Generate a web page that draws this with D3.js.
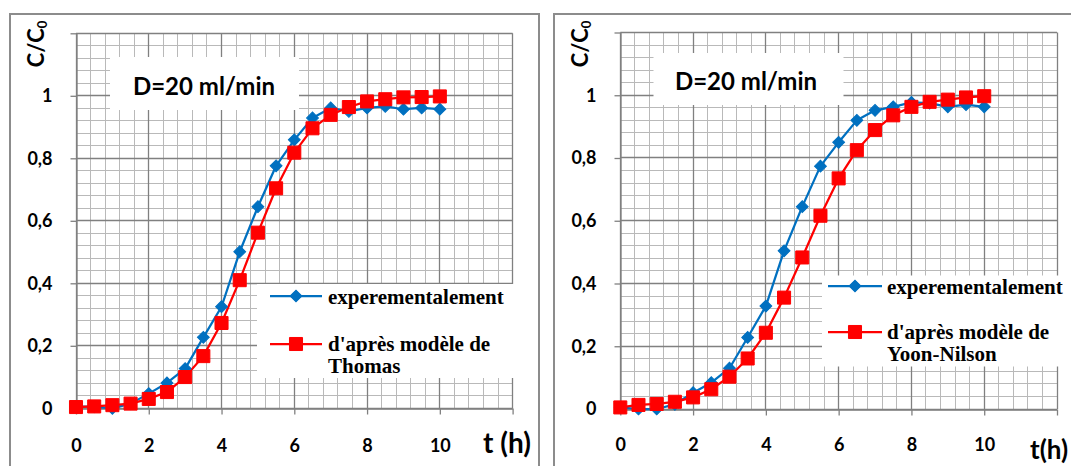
<!DOCTYPE html>
<html>
<head>
<meta charset="utf-8">
<script src="https://cdn.jsdelivr.net/npm/d3@7"></script>
<style>
  html, body { margin: 0; padding: 0; background: #fff; }
  svg { display: block; }
</style>
</head>
<body>
<svg id="chart" width="1071" height="466"></svg>
<script>
// ---------------- DATA ----------------
const times = [0, 0.5, 1, 1.5, 2, 2.5, 3, 3.5, 4, 4.5, 5, 5.5, 6, 6.5, 7, 7.5, 8, 8.5, 9, 9.5, 10];
const expThomasPanel = [0.005, 0.005, 0.0, 0.015, 0.047, 0.081, 0.127, 0.227, 0.325, 0.501, 0.645, 0.776, 0.859, 0.929, 0.961, 0.950, 0.961, 0.966, 0.957, 0.961, 0.957];
const thomasModel    = [0.004, 0.006, 0.010, 0.015, 0.030, 0.052, 0.100, 0.167, 0.273, 0.410, 0.562, 0.704, 0.818, 0.896, 0.939, 0.964, 0.982, 0.989, 0.995, 0.996, 0.998];
const expYoonPanel   = [0.005, 0.0, 0.0, 0.015, 0.052, 0.084, 0.130, 0.228, 0.328, 0.504, 0.645, 0.774, 0.850, 0.920, 0.952, 0.963, 0.977, 0.975, 0.963, 0.970, 0.963];
const yoonNilsonModel= [0.005, 0.013, 0.016, 0.023, 0.037, 0.063, 0.103, 0.161, 0.243, 0.355, 0.483, 0.616, 0.735, 0.825, 0.889, 0.936, 0.963, 0.979, 0.986, 0.993, 0.997];

const xTickValues = [0, 2, 4, 6, 8, 10, 12];
const xTickLabels = ["0", "2", "4", "6", "8", "10", ""];
const yTickValues = [0, 0.2, 0.4, 0.6, 0.8, 1, 1.2];
const yTickLabels = ["0", "0,2", "0,4", "0,6", "0,8", "1", ""];
const boxTitle = "D=20 ml/min";
const expName = "experementalement";
const modelPrefix = "d'après modèle de";
const modelNames = ["Thomas", "Yoon-Nilson"];
const xTitles = ["t (h)", "t(h)"];

// ---------------- LAYOUT ----------------
const BLUE = "#0070C0", RED = "#FF0000";
const MAJOR = "#808080", MINOR = "#b9b9b9";
const SANS = "Lato, 'Open Sans', sans-serif";
const SERIF = "'Liberation Serif', 'Times New Roman', serif";

const panels = [
  { exp: expThomasPanel, model: thomasModel, modelName: modelNames[0], xTitleText: xTitles[0],
    border: [10, 14, 529, 470],
    x0: 76, x1: 512.6, yTop: 33.3, yBot: 408.3,
    yTitle: [44, 44],
    box: [110, 57, 189, 53], boxText: [204, 94.5],
    legBox: [257, 284, 258, 94], legLine: [270, 322], legY: [296, 344], legTextX: 328,
    legBase: [303.5, 351, 373],
    xTitlePos: [483, 453], xTitleSize: 28, xLabBase: 452 },
  { exp: expYoonPanel, model: yoonNilsonModel, modelName: modelNames[1], xTitleText: xTitles[1],
    border: [554, 14, 530, 470],
    x0: 620.3, x1: 1057, yTop: 32.5, yBot: 409,
    yTitle: [588, 44],
    box: [653.5, 53, 190, 52], boxText: [746, 90],
    legBox: [822, 275.5, 245, 91], legLine: [828, 882], legY: [286, 332], legTextX: 887,
    legBase: [294, 339, 361],
    xTitlePos: [1030, 459], xTitleSize: 26, xLabBase: 451 }
];

const svg = d3.select("#chart");

function snap(v) { return Math.round(v - 0.5) + 0.5; }

panels.forEach(p => {
  const g = svg.append("g");
  const x = d3.scaleLinear().domain([0, 12]).range([p.x0, p.x1]);
  const y = d3.scaleLinear().domain([0, 1.2]).range([p.yBot, p.yTop]);

  // panel border
  g.append("rect").attr("x", p.border[0]).attr("y", p.border[1])
    .attr("width", p.border[2]).attr("height", p.border[3])
    .attr("fill", "none").attr("stroke", "#8c8c8c").attr("stroke-width", 2);

  // minor grid
  const minorX = d3.range(0, 12.0001, 0.4).filter(v => Math.abs(v / 2 - Math.round(v / 2)) > 1e-6);
  const minorY = d3.range(0, 1.2001, 0.04).filter(v => Math.abs(v / 0.2 - Math.round(v / 0.2)) > 1e-6);
  g.append("g").selectAll("line").data(minorX).join("line")
    .attr("x1", d => snap(x(d))).attr("x2", d => snap(x(d)))
    .attr("y1", y(1.2)).attr("y2", y(0))
    .attr("stroke", MINOR).attr("stroke-width", 1);
  g.append("g").selectAll("line").data(minorY).join("line")
    .attr("y1", d => snap(y(d))).attr("y2", d => snap(y(d)))
    .attr("x1", x(0)).attr("x2", x(12))
    .attr("stroke", MINOR).attr("stroke-width", 1);
  // major grid
  g.append("g").selectAll("line").data(xTickValues).join("line")
    .attr("x1", d => snap(x(d))).attr("x2", d => snap(x(d)))
    .attr("y1", y(1.2)).attr("y2", y(0))
    .attr("stroke", MAJOR).attr("stroke-width", 1.3);
  g.append("g").selectAll("line").data(yTickValues).join("line")
    .attr("y1", d => snap(y(d))).attr("y2", d => snap(y(d)))
    .attr("x1", x(0)).attr("x2", x(12))
    .attr("stroke", MAJOR).attr("stroke-width", 1.3);

  // axes
  const xAxis = d3.axisBottom(x).tickValues(xTickValues).tickSize(6).tickSizeOuter(0)
    .tickPadding(p.xLabBase - p.yBot - 6 - 13)
    .tickFormat((d, i) => xTickLabels[i]);
  const gx = g.append("g").attr("transform", `translate(0,${snap(y(0))})`).call(xAxis);
  const yAxis = d3.axisLeft(y).tickValues(yTickValues).tickSize(6).tickSizeOuter(0)
    .tickPadding(18)
    .tickFormat((d, i) => yTickLabels[i]);
  const gy = g.append("g").attr("transform", `translate(${snap(x(0))},0)`).call(yAxis);
  [gx, gy].forEach(a => {
    a.select(".domain").attr("stroke", MAJOR).attr("stroke-width", 1.3);
    a.selectAll(".tick line").attr("stroke", MAJOR).attr("stroke-width", 1.3);
    a.selectAll(".tick text").attr("font-family", SANS).attr("font-weight", "bold")
      .attr("font-size", 18).attr("fill", "#000");
  });

  // series
  const line = d3.line().x((d, i) => x(times[i])).y(d => y(d));
  g.append("path").datum(p.exp).attr("d", line).attr("fill", "none")
    .attr("stroke", BLUE).attr("stroke-width", 2.25).attr("stroke-linejoin", "round");
  g.append("path").datum(p.model).attr("d", line).attr("fill", "none")
    .attr("stroke", RED).attr("stroke-width", 2.25).attr("stroke-linejoin", "round");

  const diamond = d3.symbol(d3.symbolSquare, 70);
  const square = d3.symbol(d3.symbolSquare, 170);
  g.append("g").selectAll("path").data(p.exp).join("path")
    .attr("d", diamond)
    .attr("transform", (d, i) => `translate(${x(times[i])},${y(d)}) rotate(45)`)
    .attr("fill", BLUE).attr("stroke", BLUE).attr("stroke-width", 1);
  g.append("g").selectAll("path").data(p.model).join("path")
    .attr("d", square)
    .attr("transform", (d, i) => `translate(${x(times[i])},${y(d)})`)
    .attr("fill", RED).attr("stroke", RED).attr("stroke-width", 1);

  // title box
  g.append("rect").attr("x", p.box[0]).attr("y", p.box[1]).attr("width", p.box[2]).attr("height", p.box[3])
    .attr("fill", "#fff");
  g.append("text").attr("x", p.boxText[0]).attr("y", p.boxText[1]).attr("text-anchor", "middle")
    .attr("font-family", SANS).attr("font-weight", "bold").attr("font-size", 24).attr("fill", "#000")
    .text(boxTitle);

  // legend
  g.append("rect").attr("x", p.legBox[0]).attr("y", p.legBox[1]).attr("width", p.legBox[2]).attr("height", p.legBox[3])
    .attr("fill", "#fff");
  const lx = (p.legLine[0] + p.legLine[1]) / 2;
  g.append("line").attr("x1", p.legLine[0]).attr("x2", p.legLine[1]).attr("y1", p.legY[0]).attr("y2", p.legY[0])
    .attr("stroke", BLUE).attr("stroke-width", 2.25);
  g.append("path").attr("d", diamond).attr("transform", `translate(${lx},${p.legY[0]}) rotate(45)`)
    .attr("fill", BLUE).attr("stroke", BLUE);
  g.append("line").attr("x1", p.legLine[0]).attr("x2", p.legLine[1]).attr("y1", p.legY[1]).attr("y2", p.legY[1])
    .attr("stroke", RED).attr("stroke-width", 2.25);
  g.append("path").attr("d", square).attr("transform", `translate(${lx},${p.legY[1]})`)
    .attr("fill", RED).attr("stroke", RED);
  const legTexts = [expName, modelPrefix, p.modelName];
  legTexts.forEach((t, i) => {
    g.append("text").attr("x", p.legTextX).attr("y", p.legBase[i])
      .attr("font-family", SERIF).attr("font-weight", "bold").attr("font-size", 21).attr("fill", "#000")
      .text(t);
  });

  // axis titles
  const yt = g.append("text").attr("transform", `translate(${p.yTitle[0]},${p.yTitle[1]}) rotate(-90)`)
    .attr("text-anchor", "middle").attr("font-family", SANS).attr("font-weight", "bold")
    .attr("font-size", 22).attr("fill", "#000");
  yt.append("tspan").text("C/C");
  yt.append("tspan").attr("font-size", 13).attr("dy", 3).text("0");

  g.append("text").attr("x", p.xTitlePos[0]).attr("y", p.xTitlePos[1])
    .attr("font-family", SANS).attr("font-weight", "bold").attr("font-size", p.xTitleSize).attr("fill", "#000")
    .text(p.xTitleText);
});
</script>
</body>
</html>
